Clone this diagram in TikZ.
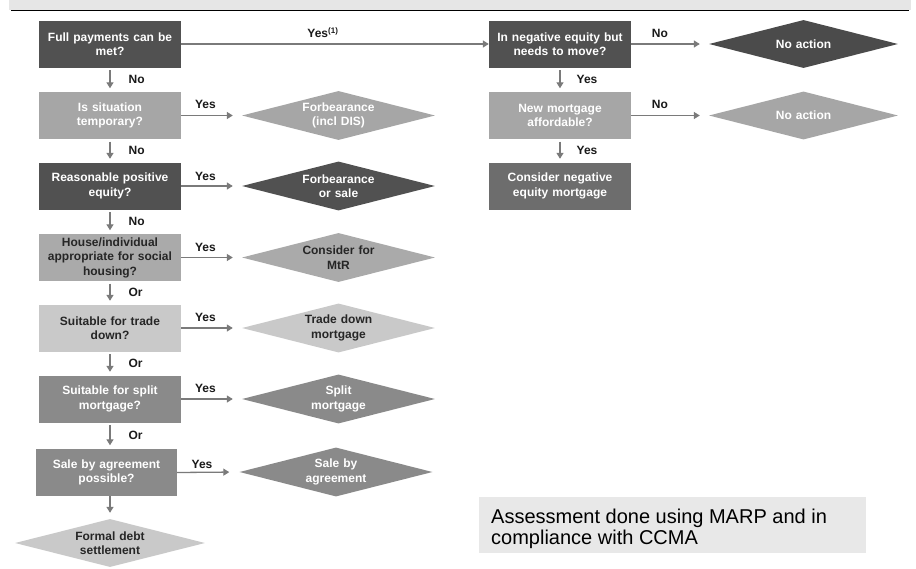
\documentclass[tikz,border=0pt]{standalone}
\usepackage{fontspec}
\setmainfont{Liberation Sans}
\usetikzlibrary{shapes.geometric,arrows.meta}
\definecolor{cdark}{HTML}{515151}
\definecolor{cdarker}{HTML}{4B4B4B}
\definecolor{cmidl}{HTML}{A6A6A6}
\definecolor{cmidl2}{HTML}{AAAAAA}
\definecolor{clight}{HTML}{C9C9C9}
\definecolor{cmed}{HTML}{8A8A8A}
\definecolor{cneg}{HTML}{6D6D6D}
\definecolor{carrow}{HTML}{7A7A7A}
\definecolor{ctext}{HTML}{1A1A1A}
\definecolor{cdtext}{HTML}{262626}
\definecolor{cband}{HTML}{E6E6E6}
\definecolor{cnote}{HTML}{E8E8E8}
\begin{document}
\begin{tikzpicture}[x=1pt,y=-1pt,
  qbox/.style={rectangle, minimum width=142pt, minimum height=47pt, inner sep=0pt,
    text width=140pt, align=center, font=\bfseries\fontsize{12}{14.5}\selectfont},
  dia/.style={diamond, shape aspect=4, minimum width=193pt, minimum height=49pt,
    inner sep=0pt, text width=80pt, align=center, font=\bfseries\fontsize{12}{14.5}\selectfont},
  arr/.style={draw=carrow, line width=1.3pt, -{Triangle[length=6pt,width=7pt]}},
  darr/.style={arr, shorten <=2.5pt, shorten >=3.5pt},
  harr/.style={arr, shorten >=9pt},
  lbl/.style={inner sep=0pt, font=\bfseries\fontsize{12}{14}\selectfont, text=ctext}]
\useasboundingbox (0,0) rectangle (916,568);
\fill[white] (0,0) rectangle (916,568);
% top band
\fill[cband] (9,0) rectangle (911,9.5);
\draw[line width=1.3pt] (11,10.5) -- (909,10.5);

% left column boxes
\node[qbox, fill=cdark, text=white] (b1) at (110,44) {Full payments can be\\met?};
\node[qbox, fill=cmidl, text=white] (b2) at (110,115.5) {Is situation\\temporary?};
\node[qbox, fill=cdark, text=white] (b3) at (110,186) {Reasonable positive\\equity?};
\node[qbox, fill=cmidl2, text=cdtext] (b4) at (110,257.5) {House/individual\\appropriate for social\\housing?};
\node[qbox, fill=clight, text=cdtext] (b5) at (110,328) {Suitable for trade\\down?};
\node[qbox, fill=cmed, text=white] (b6) at (110,399) {Suitable for split\\mortgage?};
\node[qbox, fill=cmed, text=white, minimum width=141pt] (b7) at (106.5,472.5) {Sale by agreement\\possible?};

% left column outcomes
\node[dia, fill=cmidl, text=white] (d1) at (338.5,115.5) {Forbearance\\(incl DIS)};
\node[dia, fill=cdark, text=white] (d2) at (338.5,186) {Forbearance\\or sale};
\node[dia, fill=cmidl2, text=cdtext] (d3) at (338.5,257.5) {Consider for\\MtR};
\node[dia, fill=clight, text=cdtext] (d4) at (338.5,328) {Trade down\\mortgage};
\node[dia, fill=cmed, text=white] (d5) at (338.5,399) {Split\\mortgage};
\node[dia, fill=cmed, text=white] (d6) at (336,472) {Sale by\\agreement};
\node[dia, fill=clight, text=cdtext, minimum width=190pt, minimum height=48pt] (d7) at (110,543) {Formal debt\\settlement};

% right column
\node[qbox, fill=cdark, text=white] (r1) at (560,44) {In negative equity but\\needs to move?};
\node[qbox, fill=cmidl, text=white] (r2) at (560,115.5) {New mortgage\\affordable?};
\node[qbox, fill=cneg, text=white] (r3) at (560,186) {Consider negative\\equity mortgage};
\node[dia, fill=cdarker, text=white, minimum width=189pt, minimum height=48pt] (dr1) at (803.5,44) {No action};
\node[dia, fill=cmidl, text=white, minimum width=189pt, minimum height=48pt] (dr2) at (803.5,115.5) {No action};

% vertical connectors
\draw[darr] (b1.south) -- node[lbl, right=18pt]{No} (b2.north);
\draw[darr] (b2.south) -- node[lbl, right=18pt]{No} (b3.north);
\draw[darr] (b3.south) -- node[lbl, right=18pt]{No} (b4.north);
\draw[darr] (b4.south) -- node[lbl, right=18pt]{Or} (b5.north);
\draw[darr] (b5.south) -- node[lbl, right=18pt]{Or} (b6.north);
\draw[darr] (b6.south) -- node[lbl, right=18pt]{Or} (b6.south |- b7.north);
\draw[arr, shorten >=6pt] (b7.south -| d7.north) -- (d7.north);
\draw[darr] (r1.south) -- node[lbl, right=16pt]{Yes} (r2.north);
\draw[darr] (r2.south) -- node[lbl, right=16pt]{Yes} (r3.north);

% horizontal connectors
\draw[arr] (b1.east) -- node[lbl, above=6pt, pos=0.46]{Yes{\fontsize{8}{8}\selectfont\raisebox{3.5pt}{(1)}}} (r1.west);
\draw[harr] (b2.east) -- node[lbl, above=6pt, pos=0.4]{Yes} (d1.west);
\draw[harr] (b3.east) -- node[lbl, above=5pt, pos=0.4]{Yes} (d2.west);
\draw[harr] (b4.east) -- node[lbl, above=5pt, pos=0.4]{Yes} (d3.west);
\draw[harr] (b5.east) -- node[lbl, above=6pt, pos=0.4]{Yes} (d4.west);
\draw[harr] (b6.east) -- node[lbl, above=6pt, pos=0.4]{Yes} (d5.west);
\draw[harr, shorten >=10pt] (b7.east) -- node[lbl, above=3pt, pos=0.4]{Yes} (d6.west);
\draw[harr] (r1.east) -- node[lbl, above=6pt, pos=0.37]{No} (dr1.west);
\draw[harr] (r2.east) -- node[lbl, above=6pt, pos=0.37]{No} (dr2.west);

% note
\node[fill=cnote, anchor=north west, minimum width=387pt, minimum height=56pt, inner sep=0pt] (note) at (479,497) {};
\node[anchor=north west, align=left, inner sep=0pt, font=\fontsize{20}{21}\selectfont, text=black] (notetext) at (491,508.5) {Assessment done using MARP and in\\compliance with CCMA};
\end{tikzpicture}
\end{document}
